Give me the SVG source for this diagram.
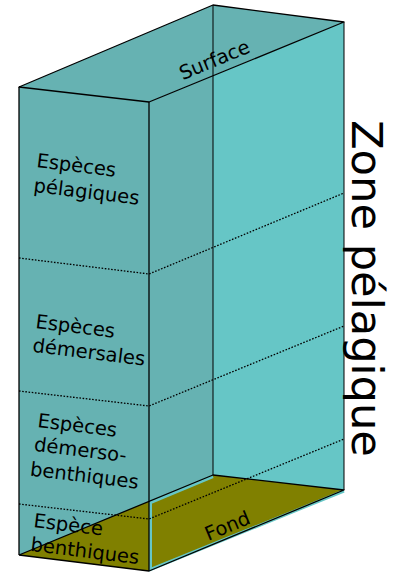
<svg xmlns="http://www.w3.org/2000/svg" width="395" height="572" viewBox="0 0 395 572">
  <style>
    .dark { fill: #66b2b2; }
    .light { fill: #66c6c6; }
    .edge { fill: none; stroke: #000; stroke-width: 1.3; stroke-linejoin: round; }
    .thin { fill: none; stroke: #000; stroke-width: 1; }
    .dot { fill: none; stroke: #000; stroke-width: 1.3; stroke-dasharray: 1.6 1.6; }
    .lbl { font-family: "DejaVu Sans", "Liberation Sans", sans-serif; font-size: 19.5px; fill: #000; }
  </style>
  <rect width="395" height="572" fill="#fff"/>
  <g id="box">
    <polygon class="dark" points="19,87 213,5 344,22 149,102"/>
    <polygon class="dark" points="19,87 149,102 149,571 19,555"/>
    <polygon class="light" points="149,102 344,22 344,490 149,571"/>
    <polygon class="dark" points="149,102 213,75.7 213,475 149,501.4"/>
  </g>
  <g id="fond">
    <polygon points="19,555 213,475 344,490 149,571" fill="#808000"/>
    <polyline points="213,476.5 150.5,502.5 150.5,569.5 344,491" fill="none" stroke="#66c6c6" stroke-width="3"/>
    <text class="lbl" transform="translate(230,532) rotate(-22.5)" text-anchor="middle">Fond</text>
  </g>
  <g id="connectors">
    <polyline class="dot" points="19,258 149,274 344,193"/>
    <polyline class="dot" points="19,391 149,406 344,326"/>
    <polyline class="dot" points="19,504 149,519 344,439"/>
    <line class="thin" x1="213" y1="5" x2="213" y2="475"/>
    <line class="thin" x1="344" y1="22" x2="344" y2="490"/>
    <polyline class="edge" points="19,555 213,475 344,490 149,571 19,555"/>
    <polygon class="edge" points="19,87 213,5 344,22 149,102"/>
    <line class="edge" x1="19" y1="87" x2="19" y2="555"/>
    <line class="edge" x1="149" y1="102" x2="149" y2="571"/>
  </g>
  <g id="surface">
    <text class="lbl" transform="translate(217,66) rotate(-22.5)" text-anchor="middle">Surface</text>
  </g>
  <g id="pelagiques">
    <text class="lbl" transform="translate(36,167) rotate(7)"><tspan x="0" y="0">Espèces</tspan><tspan x="0" y="25">pélagiques</tspan></text>
  </g>
  <g id="demersales">
    <text class="lbl" transform="translate(35,328) rotate(7)"><tspan x="0" y="0">Espèces</tspan><tspan x="0" y="24">démersales</tspan></text>
  </g>
  <g id="demerso-benthiques">
    <text class="lbl" transform="translate(37,427) rotate(7)"><tspan x="0" y="0">Espèces</tspan><tspan x="-0.5" y="24">démerso-</tspan><tspan x="-1.5" y="49">benthiques</tspan></text>
  </g>
  <g id="benthiques">
    <text class="lbl" transform="translate(33,527) rotate(7)"><tspan x="0" y="0">Espèce</tspan><tspan x="0" y="24">benthiques</tspan></text>
  </g>
  <g id="zone">
    <text transform="translate(352,120) rotate(90)" font-family="DejaVu Sans, Liberation Sans, sans-serif" font-size="43.2" fill="#000">Zone pélagique</text>
  </g>
</svg>
